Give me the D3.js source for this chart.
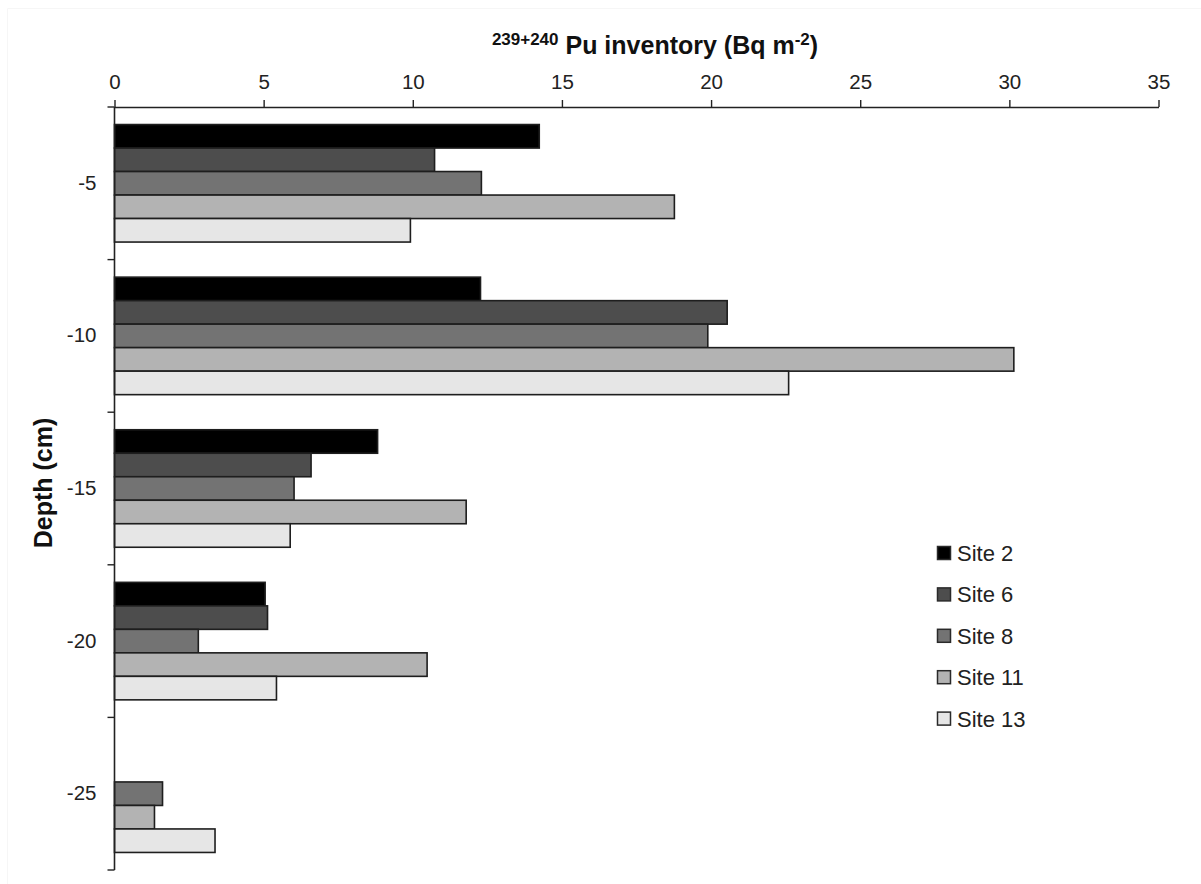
<!DOCTYPE html>
<html>
<head>
<meta charset="utf-8">
<script src="https://cdn.jsdelivr.net/npm/d3@7"></script>
<style>
  html, body { margin: 0; padding: 0; background: #fff; }
  svg { display: block; font-family: "Liberation Sans", Arial, sans-serif; }
</style>
</head>
<body>
<svg id="chart" width="1201" height="884"></svg>
<script>
// Depth intervals (cm) and Pu inventories per site
const depths = ["-5", "-10", "-15", "-20", "-25"];
const sites = ["Site 2", "Site 6", "Site 8", "Site 11", "Site 13"];
const site2  = [14.24, 12.27, 8.82, 5.05, null];
const site6  = [10.73, 20.54, 6.59, 5.13, null];
const site8  = [12.30, 19.89, 6.02, 2.81, 1.61];
const site11 = [18.77, 30.15, 11.79, 10.48, 1.34];
const site13 = [9.92, 22.60, 5.89, 5.43, 3.37];
const xTicks = [0, 5, 10, 15, 20, 25, 30, 35];
const fills = ["#000000", "#4d4d4d", "#737373", "#b3b3b3", "#e6e6e6"];

const seriesValues = [site2, site6, site8, site11, site13];

const svg = d3.select("#chart");

// faint frame edges
svg.append("path")
  .attr("d", "M7.5,884V8.5H1201")
  .attr("fill", "none").attr("stroke", "#f6f6f6").attr("stroke-width", 1);

const plotLeft = 114.5, plotRight = 1158.5, plotTop = 107, plotBottom = 870;

const x = d3.scaleLinear().domain([0, 35]).range([plotLeft, plotRight]);

const y = d3.scaleBand().domain(depths).range([plotTop, plotBottom])
  .paddingInner(0.23).paddingOuter(0.115);

const ySub = d3.scaleBand().domain(sites).range([0, y.bandwidth()]);

// bars
const g = svg.append("g");
depths.forEach((d, i) => {
  sites.forEach((s, j) => {
    const v = seriesValues[j][i];
    if (v == null) return;
    g.append("rect")
      .attr("x", x(0))
      .attr("y", y(d) + ySub(s))
      .attr("width", x(v) - x(0))
      .attr("height", ySub.bandwidth())
      .attr("fill", fills[j])
      .attr("stroke", "#1e1e1e")
      .attr("stroke-width", 1.6);
  });
});

// top value axis
const xAxis = svg.append("g")
  .attr("transform", `translate(0,${plotTop})`)
  .call(d3.axisTop(x).tickValues(xTicks).tickSize(7).tickPadding(11).tickSizeOuter(0));
xAxis.select(".domain").attr("stroke", "#222").attr("stroke-width", 1.6);
xAxis.selectAll(".tick line").attr("stroke", "#222").attr("stroke-width", 1.4);
xAxis.selectAll(".tick text").attr("font-size", 20.5).attr("fill", "#222")
  .attr("font-family", "Liberation Sans, Arial, sans-serif");

// depth axis: labels at interval centres
const yAxis = svg.append("g")
  .attr("transform", `translate(${plotLeft},0)`)
  .call(d3.axisLeft(y).tickSize(0).tickPadding(18));
yAxis.select(".domain").remove();
yAxis.selectAll(".tick text").attr("font-size", 20.5).attr("fill", "#222")
  .attr("font-family", "Liberation Sans, Arial, sans-serif");

// depth axis line and interval boundary ticks
const step = y.step();
const boundaries = d3.range(depths.length + 1).map(i => plotTop + i * step);
svg.append("line")
  .attr("x1", plotLeft).attr("x2", plotLeft).attr("y1", plotTop).attr("y2", plotBottom)
  .attr("stroke", "#222").attr("stroke-width", 1.6);
svg.selectAll(".bt").data(boundaries).enter().append("line")
  .attr("x1", plotLeft - 7).attr("x2", plotLeft)
  .attr("y1", d => d).attr("y2", d => d)
  .attr("stroke", "#222").attr("stroke-width", 1.4);

// axis titles
const title = svg.append("text")
  .attr("x", 655).attr("y", 54)
  .attr("text-anchor", "middle")
  .attr("font-weight", "bold")
  .attr("font-size", 25)
  .attr("fill", "#111");
title.append("tspan").attr("font-size", 17).attr("dy", -9).text("239+240");
title.append("tspan").attr("dy", 9).text(" Pu inventory (Bq m");
title.append("tspan").attr("font-size", 17).attr("dy", -9).text("-2");
title.append("tspan").attr("dy", 9).text(")");

svg.append("text")
  .attr("transform", "translate(52,483) rotate(-90)")
  .attr("text-anchor", "middle")
  .attr("font-weight", "bold")
  .attr("font-size", 25)
  .attr("fill", "#111")
  .text("Depth (cm)");

// legend
const legend = svg.append("g").attr("transform", "translate(937,553)");
sites.forEach((s, j) => {
  const row = legend.append("g").attr("transform", `translate(0,${j * 41.4})`);
  row.append("rect")
    .attr("x", 0.5).attr("y", -6.5).attr("width", 13).attr("height", 13)
    .attr("fill", fills[j]).attr("stroke", "#2a2a2a").attr("stroke-width", 1.5);
  row.append("text")
    .attr("x", 20).attr("y", 8)
    .attr("font-size", 22).attr("fill", "#222")
    .text(s);
});
</script>
</body>
</html>
